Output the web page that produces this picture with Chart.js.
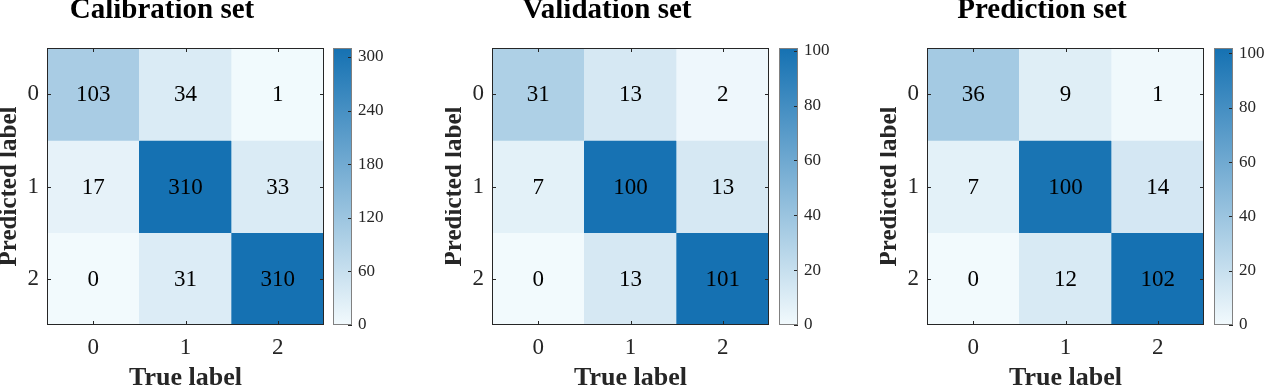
<!DOCTYPE html>
<html>
<head>
<meta charset="utf-8">
<script src="https://cdn.jsdelivr.net/npm/chart.js@4.4.1/dist/chart.umd.min.js"></script>
<style>
html, body { margin: 0; padding: 0; background: #fff; }
#wrap { position: relative; width: 1265px; height: 387px; overflow: hidden; }
#wrap canvas { position: absolute; top: 0; }
</style>
</head>
<body>
<div id="wrap"></div>
<script>
// data
const labels = ['0', '1', '2'];
const titles = ['Calibration set', 'Validation set', 'Prediction set'];
const calibration = [[103, 34, 1], [17, 310, 33], [0, 31, 310]];
const validation = [[31, 13, 2], [7, 100, 13], [0, 13, 101]];
const prediction = [[36, 9, 1], [7, 100, 14], [0, 12, 102]];
const colorMax = [310, 101, 102];
const calibrationTicks = [0, 60, 120, 180, 240, 300];
const validationTicks = [0, 20, 40, 60, 80, 100];
const predictionTicks = [0, 20, 40, 60, 80, 100];

const matrices = [calibration, validation, prediction];
const cbTicks = [calibrationTicks, validationTicks, predictionTicks];

// layout (page px)
const plotLeft = [47, 492, 927];
const cbLeft = [333, 779, 1214];
const plotW = 277, cbW = 19;
const top0 = 48, bottom0 = 325, H = 387;

const serif = "'Times New Roman', 'Liberation Serif', serif";
const lo = [242, 250, 253];
const hi = [21, 113, 178];

function mix(t) {
    t = Math.max(0, Math.min(1, t));
    const c = lo.map((v, i) => Math.round(v + (hi[i] - v) * t));
    return `rgb(${c[0]},${c[1]},${c[2]})`;
}

function addCanvas(left, width) {
    const cv = document.createElement('canvas');
    cv.width = width;
    cv.height = H;
    cv.style.left = left + 'px';
    cv.style.width = width + 'px';
    cv.style.height = H + 'px';
    document.getElementById('wrap').appendChild(cv);
    return cv;
}

const cellText = {
    id: 'cellText',
    afterDatasetsDraw(chart) {
        const { ctx, scales: { x, y } } = chart;
        ctx.save();
        ctx.font = `23px ${serif}`;
        ctx.fillStyle = '#000';
        ctx.textAlign = 'center';
        ctx.textBaseline = 'middle';
        chart.data.datasets.forEach((ds, r) => {
            ds.values.forEach((v, c) => {
                ctx.fillText(String(v), x.getPixelForValue(c), y.getPixelForValue(r) + 1);
            });
        });
        ctx.restore();
    }
};

// box + inward tick marks
const frame = {
    id: 'frame',
    afterDraw(chart, args, opts) {
        const { ctx, chartArea: a } = chart;
        ctx.save();
        ctx.lineWidth = 1;
        ctx.strokeStyle = opts.tickColor || '#262626';
        const tl = 4;
        if (opts.xTicks) {
            opts.xTicks.forEach(v => {
                const px = Math.round(chart.scales.x.getPixelForValue(v)) + 0.5;
                ctx.beginPath();
                ctx.moveTo(px, a.top); ctx.lineTo(px, a.top + tl);
                ctx.moveTo(px, a.bottom); ctx.lineTo(px, a.bottom - tl);
                ctx.stroke();
            });
        }
        if (opts.yTicks) {
            opts.yTicks.forEach(v => {
                const py = Math.round(chart.scales.y.getPixelForValue(v)) + 0.5;
                ctx.beginPath();
                if (opts.leftTicks) { ctx.moveTo(a.left, py); ctx.lineTo(a.left + tl, py); }
                ctx.moveTo(a.right, py); ctx.lineTo(a.right - tl, py);
                ctx.stroke();
            });
        }
        ctx.strokeStyle = opts.color || '#262626';
        ctx.strokeRect(Math.round(a.left) + 0.5, Math.round(a.top) + 0.5,
            Math.round(a.right - a.left) - 1, Math.round(a.bottom - a.top) - 1);
        ctx.restore();
    }
};

function drawMatrix(p) {
    const matrix = matrices[p];
    const max = colorMax[p];
    const W = 47 + plotW + 6;
    const cv = addCanvas(plotLeft[p] - 47, W);

    new Chart(cv, {
        type: 'bar',
        data: {
            labels: labels,
            datasets: matrix.map((row, r) => ({
                data: row.map(() => [r - 0.5, r + 0.5]),
                values: row,
                backgroundColor: row.map(v => mix(v / max)),
                borderWidth: 0,
                grouped: false,
                barPercentage: 1,
                categoryPercentage: 1
            }))
        },
        options: {
            responsive: false,
            animation: false,
            devicePixelRatio: 1,
            layout: { padding: { left: 0, right: 6, top: 0, bottom: 0 } },
            plugins: {
                legend: { display: false },
                tooltip: { enabled: false },
                title: {
                    display: true,
                    text: titles[p],
                    color: '#000',
                    font: { family: serif, size: 29, weight: 'bold', lineHeight: 0.72 },
                    padding: { top: 0, bottom: top0 - 29 * 0.72 }
                },
                frame: { xTicks: [0, 1, 2], yTicks: [0, 1, 2], leftTicks: true }
            },
            scales: {
                x: {
                    grid: { display: false, drawTicks: false, tickLength: 0 },
                    border: { display: false },
                    ticks: { color: '#262626', font: { family: serif, size: 23 }, padding: 9 },
                    title: {
                        display: true,
                        text: 'True label',
                        color: '#262626',
                        font: { family: serif, size: 26, weight: 'bold', lineHeight: 0.66 },
                        padding: 0
                    },
                    afterFit: s => { s.height = H - bottom0; }
                },
                y: {
                    min: -0.5,
                    max: 2.5,
                    reverse: true,
                    afterBuildTicks: s => { s.ticks = labels.map((l, i) => ({ value: i })); },
                    grid: { display: false, drawTicks: false, tickLength: 0 },
                    border: { display: false },
                    ticks: {
                        color: '#262626',
                        font: { family: serif, size: 23 },
                        padding: 8,
                        callback: v => labels[v]
                    },
                    title: {
                        display: true,
                        text: 'Predicted label',
                        color: '#262626',
                        font: { family: serif, size: 25, weight: 'bold', lineHeight: 0.8 },
                        padding: 0
                    },
                    afterFit: s => { s.width = 47; }
                }
            }
        },
        plugins: [cellText, frame]
    });
}

function drawColorbar(p) {
    const max = colorMax[p];
    const W = 60;
    const cv = addCanvas(cbLeft[p] - 4, W);

    new Chart(cv, {
        type: 'bar',
        data: {
            labels: [''],
            datasets: [{
                data: [[0, max]],
                backgroundColor: (c) => {
                    const area = c.chart.chartArea;
                    if (!area) return mix(0.5);
                    const g = c.chart.ctx.createLinearGradient(0, area.bottom, 0, area.top);
                    g.addColorStop(0, mix(0));
                    g.addColorStop(1, mix(1));
                    return g;
                },
                borderWidth: 0,
                barPercentage: 1,
                categoryPercentage: 1
            }]
        },
        options: {
            responsive: false,
            animation: false,
            devicePixelRatio: 1,
            layout: { padding: { left: 4, right: 0, top: top0, bottom: H - bottom0 } },
            plugins: {
                legend: { display: false },
                tooltip: { enabled: false },
                frame: { yTicks: cbTicks[p], color: '#808080' }
            },
            scales: {
                x: { display: false },
                y: {
                    position: 'right',
                    min: 0,
                    max: max,
                    afterBuildTicks: s => { s.ticks = cbTicks[p].map(v => ({ value: v })); },
                    grid: { display: false, drawTicks: false, tickLength: 0 },
                    border: { display: false },
                    ticks: { color: '#262626', font: { family: serif, size: 17 }, padding: 6 },
                    afterFit: s => { s.width = W - 4 - cbW; }
                }
            }
        },
        plugins: [frame]
    });
}

[0, 1, 2].forEach(p => { drawMatrix(p); drawColorbar(p); });
</script>
</body>
</html>
